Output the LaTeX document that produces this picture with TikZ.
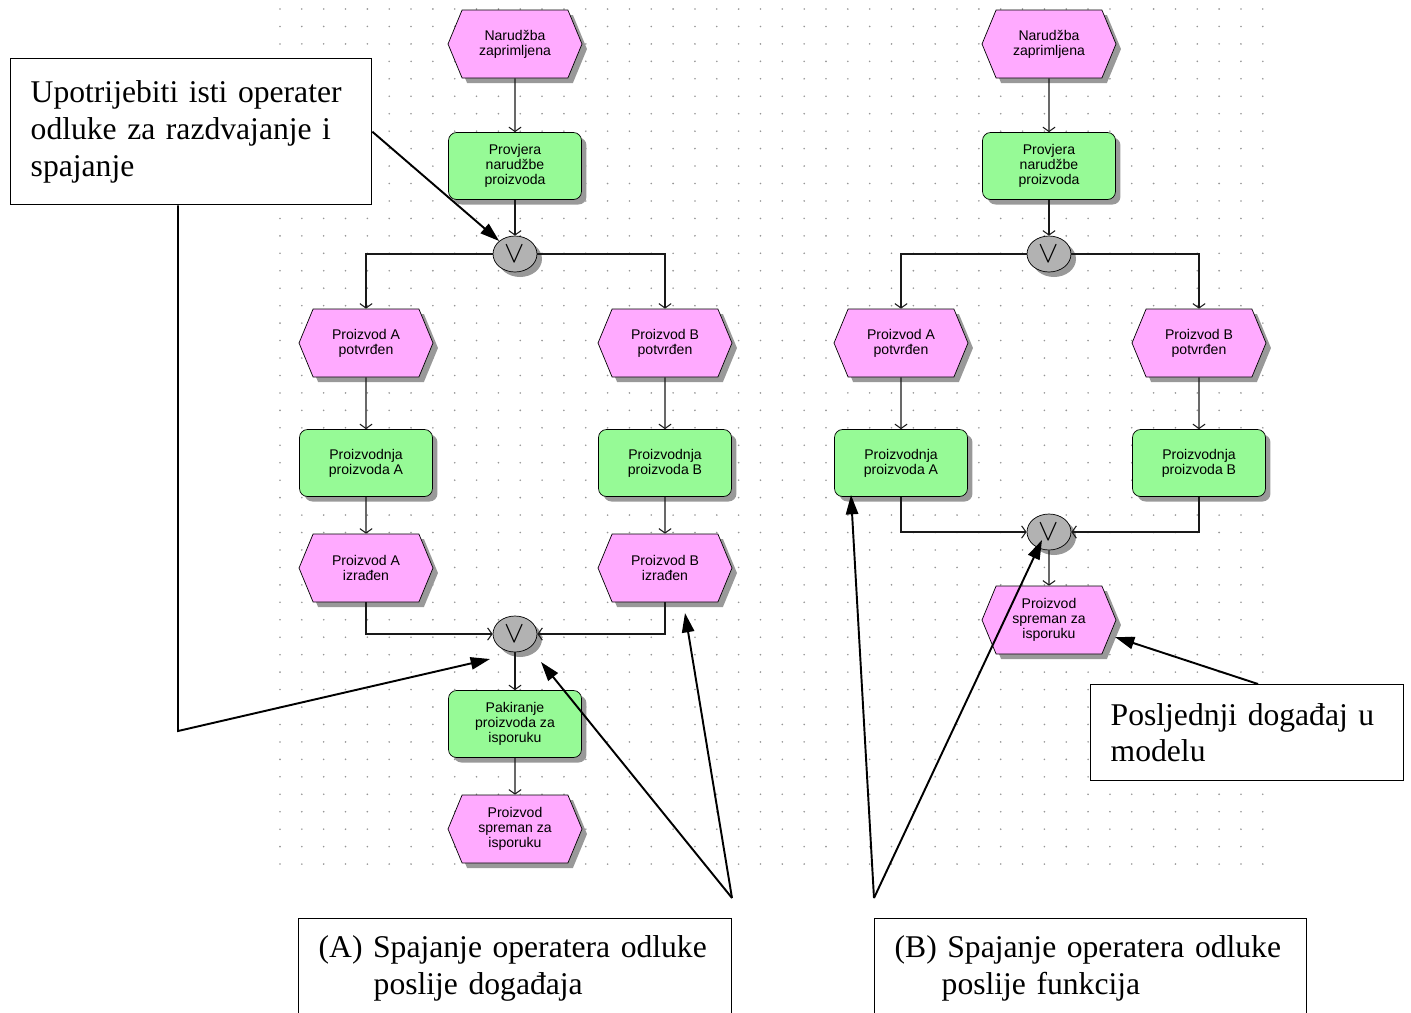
\documentclass[tikz,border=0pt]{standalone}
\usepackage{fontspec}
\setmainfont{Liberation Serif}
\setsansfont{Liberation Sans}
\usepackage{tikz}
\usetikzlibrary{shapes.symbols,shapes.geometric,arrows.meta,shadows}
\definecolor{evpink}{RGB}{255,170,255}
\definecolor{fngreen}{RGB}{150,250,150}
\definecolor{opgray}{RGB}{178,178,178}
\definecolor{dotgray}{RGB}{150,150,150}

\begin{document}
\begin{tikzpicture}[
    x=0.02cm, y=-0.02cm,
    shade/.style={drop shadow={shadow xshift=0.1cm, shadow yshift=-0.1cm,
                  fill=gray!80, opacity=1}},
    event/.style={signal, signal to=east and west, signal pointer angle=135,
                  draw, fill=evpink, minimum width=2.68cm, minimum height=1.36cm,
                  inner sep=1pt, align=center,
                  font=\sffamily\fontsize{8}{8.4}\selectfont, shade},
    func/.style={rectangle, rounded corners=0.16cm, draw, fill=fngreen,
                 minimum width=2.66cm, minimum height=1.34cm, align=center,
                 font=\sffamily\fontsize{8}{8.4}\selectfont, shade},
    oper/.style={ellipse, draw, fill=opgray, minimum width=0.88cm,
                 minimum height=0.72cm, inner sep=0pt, font=\LARGE, shade},
    flow/.style={-{Straight Barb[length=2.5pt,width=7pt]}, line width=0.6pt,
                 black!90},
    note/.style={draw, line width=0.8pt, fill=white, anchor=north west,
                 align=left, inner xsep=0.4cm, inner ysep=0pt,
                 font=\fontsize{18}{21}\selectfont},
    callout/.style={-{Triangle[length=11pt,width=7pt]}, line width=1.1pt}
]
\useasboundingbox (0,0) rectangle (1411,1012);

% dotted modelling grid
\foreach \i in {0,...,45} {
  \foreach \j in {0,...,49} {
    \fill[dotgray] (280+\i*21.84, 9+\j*17.45) circle (0.018cm);
  }
}

% (A) join after events
\node[event] (e1) at (515, 44) {Narudžba\\zaprimljena};
\node[func] (f1) at (515, 166) {Provjera\\narudžbe\\proizvoda};
\node[oper] (g1) at (515, 254) {$\vee$};
\node[event] (eA1) at (366, 343) {Proizvod A\\potvrđen};
\node[event] (eB1) at (665, 343) {Proizvod B\\potvrđen};
\node[func] (fA) at (366, 463) {Proizvodnja\\proizvoda A};
\node[func] (fB) at (665, 463) {Proizvodnja\\proizvoda B};
\node[event] (eA2) at (366, 568) {Proizvod A\\izrađen};
\node[event] (eB2) at (665, 568) {Proizvod B\\izrađen};
\node[oper] (g2) at (515, 634) {$\vee$};
\node[func] (f2) at (515, 724) {Pakiranje\\proizvoda za\\isporuku};
\node[event] (e3) at (515, 829) {Proizvod\\spreman za\\isporuku};

\draw[flow] (e1) -- (f1);
\draw[flow] (f1) -- (g1);
\draw[flow] (g1) -| (eA1);
\draw[flow] (g1) -| (eB1);
\draw[flow] (eA1) -- (fA);
\draw[flow] (eB1) -- (fB);
\draw[flow] (fA) -- (eA2);
\draw[flow] (fB) -- (eB2);
\draw[flow] (eA2) |- (g2);
\draw[flow] (eB2) |- (g2);
\draw[flow] (g2) -- (f2);
\draw[flow] (f2) -- (e3);

% (B) join after functions
\node[event] (re1) at (1049, 44) {Narudžba\\zaprimljena};
\node[func] (rf1) at (1049, 166) {Provjera\\narudžbe\\proizvoda};
\node[oper] (rg1) at (1049, 254) {$\vee$};
\node[event] (reA) at (901, 343) {Proizvod A\\potvrđen};
\node[event] (reB) at (1199, 343) {Proizvod B\\potvrđen};
\node[func] (rfA) at (901, 463) {Proizvodnja\\proizvoda A};
\node[func] (rfB) at (1199, 463) {Proizvodnja\\proizvoda B};
\node[oper] (rg2) at (1049, 532) {$\vee$};
\node[event] (re3) at (1049, 620) {Proizvod\\spreman za\\isporuku};

\draw[flow] (re1) -- (rf1);
\draw[flow] (rf1) -- (rg1);
\draw[flow] (rg1) -| (reA);
\draw[flow] (rg1) -| (reB);
\draw[flow] (reA) -- (rfA);
\draw[flow] (reB) -- (rfB);
\draw[flow] (rfA) |- (rg2);
\draw[flow] (rfB) |- (rg2);
\draw[flow] (rg2) -- (re3);

% annotations
\node[note, text width=6.42cm, minimum height=2.92cm] (note1) at (10, 58)
  {Upotrijebiti isti operater\\odluke za razdvajanje i\\spajanje};
\node[note, text width=7.86cm, minimum height=1.98cm] (note2) at (298, 918)
  {(A) Spajanje operatera odluke\\\hspace*{1.1cm}poslije događaja};
\node[note, text width=7.84cm, minimum height=1.98cm] (note3) at (874, 918)
  {(B) Spajanje operatera odluke\\\hspace*{0.94cm}poslije funkcija};
\node[note, text width=5.46cm, minimum height=1.92cm] (note4) at (1090, 684)
  {Posljednji događaj u\\modelu};

\coordinate (knee1) at (178, 731);
\coordinate (tip1) at (490, 659);
\coordinate (fork2) at (732, 898);
\coordinate (tip2a) at (541, 662);
\coordinate (tip2b) at (685, 613);
\coordinate (fork3) at (874, 898);
\coordinate (tip3a) at (851, 495);
\coordinate (tip3b) at (1042, 540);
\coordinate (start4) at (1258, 684);
\coordinate (tip4) at (1115, 637);

\draw[callout] (note1.east) -- (g1.north west);
\draw[callout] (note1.south -| knee1) -- (knee1) -- (tip1);
\draw[callout] (fork2) -- (tip2a);
\draw[callout] (fork2) -- (tip2b);
\draw[callout] (fork3) -- (tip3a);
\draw[callout] (fork3) -- (tip3b);
\draw[callout] (start4) -- (tip4);

\end{tikzpicture}
\end{document}
